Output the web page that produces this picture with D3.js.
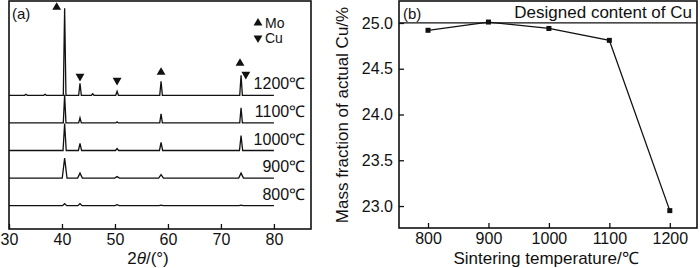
<!DOCTYPE html>
<html>
<head>
<meta charset="utf-8">
<script src="https://cdn.jsdelivr.net/npm/d3@7"></script>
<style>
  body { margin: 0; background: #fff; }
  svg text { font-family: Arial, "Liberation Sans", sans-serif; fill: #111; }
</style>
</head>
<body>
<svg id="chart" width="700" height="268"></svg>
<script>
// (a) XRD patterns - peak positions (2theta) and peak heights per temperature
var temps = ["800", "900", "1000", "1100", "1200"];
var peakPos = [33.2, 36.8, 40.5, 43.4, 45.8, 50.4, 58.7, 73.8];
var h800  = [0, 0, 2, 2, 0, 1, 0.5, 0.5];
var h900  = [0, 0, 20, 5, 0, 1.5, 3.5, 5];
var h1000 = [0, 0, 27, 7, 0, 2, 8, 15];
var h1100 = [0, 0, 28, 5, 0, 1, 9, 15];
var h1200 = [1, 1, 87, 12, 1.5, 4, 14, 20];
var peakWidth = [0.4, 0.45, 0.3, 0.25, 0.25];

// phase markers over the 1200 pattern
var markPos = [39.0, 43.4, 50.4, 58.7, 73.6, 74.7];
var markPhase = ["Mo", "Cu", "Cu", "Mo", "Mo", "Cu"];
var markLevel = [88, 19, 15, 23, 32, 21];

// (b) Cu content vs sintering temperature
var sinterT = [800, 900, 1000, 1100, 1200];
var cuContent = [24.92, 25.01, 24.94, 24.81, 22.95];
var designedCu = 25.0;

var xTicksA = [30, 40, 50, 60, 70, 80];
var xTicksB = [800, 900, 1000, 1100, 1200];
var yTicksB = [23.0, 23.5, 24.0, 24.5, 25.0];

var svg = d3.select("#chart");
var heights = [h800, h900, h1000, h1100, h1200];
var FONT = "Arial, 'Liberation Sans', sans-serif";

function styleAxis(g) {
  g.select(".domain").remove();
  g.selectAll("line").attr("stroke", "#111").attr("stroke-width", 1.3);
  g.selectAll("text").attr("font-size", 16).attr("font-family", FONT).attr("fill", "#111");
}

// ---------- panel (a) ----------
var xA = d3.scaleLinear().domain([30, 87]).range([9, 311]);
var yA = d3.scaleLinear().domain([0, 228]).range([229, 1]);
var step = 27.6, base0 = 23.3;

var gA = svg.append("g");

var line = d3.line().x(function(d) { return xA(d[0]); }).y(function(d) { return yA(d[1]); });

heights.forEach(function(h, i) {
  var off = base0 + i * step;
  var w = peakWidth[i];
  var pts = [[30, off]];
  peakPos.forEach(function(p, j) {
    if (h[j] > 0) {
      pts.push([p - w, off], [p, off + h[j]], [p + w, off]);
    }
  });
  pts.push([80, off]);
  gA.append("path").attr("d", line(pts))
    .attr("fill", "none").attr("stroke", "#111").attr("stroke-width", 1.3);

  gA.append("text").attr("x", xA(85.9)).attr("y", yA(off) - 6)
    .attr("text-anchor", "end").attr("font-size", 16).text(temps[i] + "℃");
});

var tri = d3.symbol().type(d3.symbolTriangle).size(34);
var topOff = base0 + 4 * step;
markPos.forEach(function(p, k) {
  gA.append("path").attr("d", tri())
    .attr("transform", "translate(" + xA(p) + "," + yA(topOff + markLevel[k]) + ")" + (markPhase[k] === "Cu" ? " rotate(180)" : ""))
    .attr("fill", "#111");
});

// legend
[["Mo", 23], ["Cu", 38]].forEach(function(l) {
  gA.append("path").attr("d", tri())
    .attr("transform", "translate(258," + l[1] + ")" + (l[0] === "Cu" ? " rotate(180)" : ""))
    .attr("fill", "#111");
  gA.append("text").attr("x", 265).attr("y", l[1] + 5).attr("font-size", 14).text(l[0]);
});

gA.append("g").attr("transform", "translate(0,229)")
  .call(d3.axisBottom(xA).tickValues(xTicksA).tickSize(-5).tickPadding(5))
  .call(styleAxis);

gA.append("rect").attr("x", 9).attr("y", 1).attr("width", 302).attr("height", 228)
  .attr("fill", "none").attr("stroke", "#111").attr("stroke-width", 1.6);

gA.append("text").attr("x", 12).attr("y", 19).attr("font-size", 15).text("(a)");

var tA = gA.append("text").attr("x", 148).attr("y", 264).attr("text-anchor", "middle").attr("font-size", 17);
tA.append("tspan").text("2");
tA.append("tspan").attr("font-style", "italic").text("θ");
tA.append("tspan").text("/(°)");

// ---------- panel (b) ----------
var xB = d3.scaleLinear().domain([752, 1245]).range([399, 697]);
var yB = d3.scaleLinear().domain([22.76, 25.24]).range([228, 1]);
var gB = svg.append("g");

gB.append("line").attr("x1", xB(752)).attr("x2", xB(1245))
  .attr("y1", yB(designedCu)).attr("y2", yB(designedCu))
  .attr("stroke", "#111").attr("stroke-width", 1.3);

gB.append("path")
  .attr("d", d3.line().x(function(d, i) { return xB(sinterT[i]); }).y(function(d) { return yB(d); })(cuContent))
  .attr("fill", "none").attr("stroke", "#111").attr("stroke-width", 1.3);

gB.selectAll("rect.pt").data(cuContent).enter().append("rect").attr("class", "pt")
  .attr("x", function(d, i) { return xB(sinterT[i]) - 2.5; })
  .attr("y", function(d) { return yB(d) - 2.5; })
  .attr("width", 5).attr("height", 5).attr("fill", "#111");

gB.append("g").attr("transform", "translate(0,228)")
  .call(d3.axisBottom(xB).tickValues(xTicksB).tickFormat(d3.format("d")).tickSize(-5).tickPadding(5))
  .call(styleAxis);

gB.append("g").attr("transform", "translate(399,0)")
  .call(d3.axisLeft(yB).tickValues(yTicksB).tickFormat(d3.format(".1f")).tickSize(-5).tickPadding(6))
  .call(styleAxis);

gB.append("rect").attr("x", 399).attr("y", 1).attr("width", 298).attr("height", 227)
  .attr("fill", "none").attr("stroke", "#111").attr("stroke-width", 1.6);

gB.append("text").attr("x", 403).attr("y", 19).attr("font-size", 15).text("(b)");
gB.append("text").attr("x", 692).attr("y", 18).attr("text-anchor", "end").attr("font-size", 17)
  .text("Designed content of Cu");

gB.append("text").attr("transform", "translate(546,264)").attr("text-anchor", "middle").attr("font-size", 17)
  .text("Sintering temperature/℃");

gB.append("text").attr("transform", "translate(348,115) rotate(-90)")
  .attr("text-anchor", "middle").attr("font-size", 17)
  .text("Mass fraction of actual Cu/%");
</script>
</body>
</html>
